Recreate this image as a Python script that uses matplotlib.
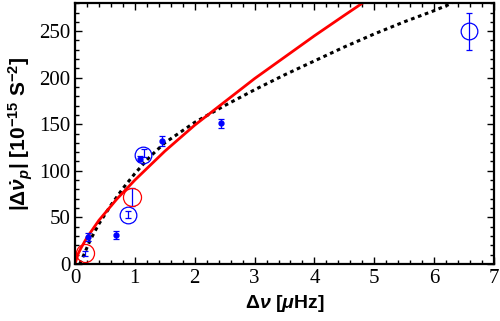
import matplotlib
matplotlib.use('Agg')
import matplotlib.pyplot as plt
from matplotlib.ticker import MultipleLocator

plt.rcParams['font.family'] = 'Liberation Serif'
plt.rcParams['mathtext.fontset'] = 'custom'
plt.rcParams['mathtext.rm'] = 'Liberation Sans:bold'
plt.rcParams['mathtext.it'] = 'Liberation Sans:italic:bold'
plt.rcParams['mathtext.bf'] = 'Liberation Sans:bold'

# measured glitch points
dnu = [0.17, 0.22, 0.68, 0.88, 0.96, 1.08, 1.15, 1.46, 2.44, 6.58]
dnudot = [11, 29, 31, 53, 72, 113, 119, 132, 151, 250]
err = [3, 4, 4, 4, 10, 3, 4, 5, 5, 20]
dotted = [False, True, True, False, False, True, False, True, True, False]

# circled points
blue_cx = [0.88, 1.14, 6.58]
blue_cy = [53, 117, 250]
red_cx = [0.17, 0.96]
red_cy = [12, 72]

# model curves
red_x = [0, 0.05, 0.1, 0.2, 0.4, 0.7, 1.0, 1.5, 2.0, 2.5, 3.0, 3.5, 4.0, 4.5, 4.8]
red_y = [0, 10.4, 17, 28.3, 46.8, 69.7, 90, 121, 149, 174, 199, 222, 245, 267, 280]
blk_x = [0.08, 0.15, 0.25, 0.4, 0.6, 0.8, 1.0, 1.25, 1.5, 2.0, 2.5, 3.0, 3.5, 4.0, 4.5, 5.0, 5.5, 6.0, 6.3]
blk_y = [0, 10, 25, 43, 63, 81, 97, 115, 130, 152, 170, 187, 203, 218, 233, 247, 260, 272, 280]

fig = plt.figure(figsize=(5, 3.21), dpi=100)
ax = fig.add_axes([0.15, 0.178, 0.838, 0.812])

ax.plot(blk_x, blk_y, color='black', ls=(0, (1.2, 1.2)), lw=2.2)
ax.plot(red_x, red_y, color='red', lw=2)

for x, y, e, d in zip(dnu, dnudot, err, dotted):
    ax.errorbar(x, y, yerr=e, fmt='o' if d else 'none', color='blue', ms=3.5,
                elinewidth=0.9, capsize=2, capthick=0.9)

ax.plot(blue_cx, blue_cy, 'o', mfc='none', mec='blue', ms=12, mew=0.9)
ax.plot(red_cx, red_cy, 'o', mfc='none', mec='red', ms=13, mew=0.9)

ax.set_xlim(0, 7)
ax.set_ylim(0, 280)
ax.xaxis.set_major_locator(MultipleLocator(1))
ax.xaxis.set_minor_locator(MultipleLocator(0.2))
ax.yaxis.set_major_locator(MultipleLocator(50))
ax.yaxis.set_minor_locator(MultipleLocator(10))
ax.tick_params(which='both', direction='in', top=True, right=True, labelsize=15)
ax.tick_params(which='major', length=5, width=1)
ax.tick_params(which='minor', length=3, width=1)
for s in ax.spines.values():
    s.set_linewidth(1.6)

ax.set_xlabel(r'$\Delta\nu$ [$\mu$Hz]', fontsize=14, family='Liberation Sans', weight='bold')
ax.set_ylabel(r'$|\Delta\dot{\nu}_p|$ [10$^{-15}$ S$^{-2}$]', fontsize=15,
              family='Liberation Sans', weight='bold', labelpad=3)

fig.savefig('out.png', dpi=100)
